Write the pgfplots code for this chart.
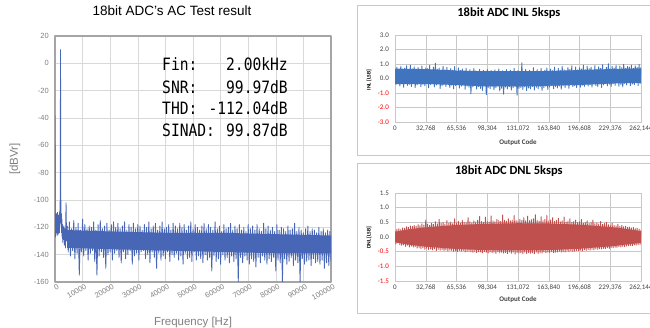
\documentclass[border=0pt]{standalone}
\usepackage{pgfplots}
\usepackage{pgfplotstable}
\pgfplotsset{compat=1.18}
\usepackage{fontspec}
\setmainfont{Liberation Sans}
\newfontfamily\carlito{Carlito}
\newfontfamily\mono[FakeStretch=0.86]{DejaVu Sans Mono}
\definecolor{fftblue}{RGB}{72,102,182}
\definecolor{inlblue}{RGB}{64,116,190}
\definecolor{dnlred}{RGB}{192,80,77}
\definecolor{gridgray}{RGB}{217,217,217}
\definecolor{axgray}{RGB}{165,165,165}
\definecolor{labelgray}{RGB}{128,128,128}
\definecolor{framegray}{RGB}{200,200,200}
\definecolor{rgrid}{RGB}{200,200,200}
\definecolor{rlabel}{RGB}{64,64,64}

\pgfplotstableread[header=false,row sep=\\]{
-119\\ -138\\ -116\\ -141\\ -121\\ -137\\ -115\\ -143\\ -120\\ -139\\
-117\\ -155\\ -122\\ -138\\ -114\\ -141\\ -118\\ -137\\ -121\\ -144\\
-119\\ -139\\ -120\\ -137\\ -116\\ -145\\ -122\\ -155\\ -118\\ -141\\
-115\\ -138\\ -121\\ -142\\ -119\\ -150\\ -117\\ -140\\ -122\\ -138\\
-118\\ -144\\ -116\\ -139\\ -120\\ -137\\ -117\\ -142\\ -121\\ -146\\
-119\\ -138\\ -116\\ -143\\ -122\\ -140\\ -118\\ -137\\ -120\\ -147\\
-117\\ -141\\ -121\\ -139\\ -118\\ -144\\ -119\\ -138\\ -122\\ -137\\
-118\\ -143\\ -120\\ -140\\ -116\\ -146\\ -121\\ -138\\ -119\\ -142\\
-117\\ -150\\ -122\\ -139\\ -119\\ -144\\ -116\\ -141\\ -121\\ -143\\
-120\\ -138\\ -118\\ -145\\ -122\\ -140\\ -117\\ -142\\ -119\\ -139\\
-121\\ -144\\ -117\\ -141\\ -120\\ -147\\ -118\\ -139\\ -122\\ -143\\
-119\\ -142\\ -116\\ -145\\ -121\\ -138\\ -118\\ -144\\ -120\\ -141\\
-122\\ -143\\ -119\\ -146\\ -117\\ -140\\ -121\\ -144\\ -118\\ -142\\
-120\\ -152\\ -122\\ -141\\ -116\\ -145\\ -121\\ -143\\ -119\\ -147\\
-123\\ -140\\ -118\\ -144\\ -121\\ -142\\ -120\\ -146\\ -117\\ -141\\
-122\\ -145\\ -119\\ -143\\ -121\\ -160\\ -118\\ -142\\ -122\\ -146\\
-120\\ -141\\ -123\\ -144\\ -118\\ -147\\ -121\\ -143\\ -119\\ -145\\
-122\\ -149\\ -118\\ -142\\ -121\\ -146\\ -123\\ -141\\ -117\\ -144\\
-121\\ -147\\ -119\\ -143\\ -122\\ -145\\ -120\\ -142\\ -123\\ -152\\
-118\\ -144\\ -122\\ -146\\ -120\\ -160\\ -121\\ -143\\ -123\\ -147\\
-119\\ -145\\ -122\\ -142\\ -121\\ -148\\ -117\\ -144\\ -123\\ -146\\
-120\\ -160\\ -122\\ -143\\ -124\\ -147\\ -121\\ -145\\ -119\\ -144\\
-123\\ -148\\ -121\\ -143\\ -122\\ -146\\ -124\\ -145\\ -120\\ -147\\
-123\\ -144\\ -121\\ -150\\ -124\\ -146\\ -122\\ -148\\ -123\\ -145\\
}\ffttable

\pgfplotstableread[header=false,row sep=\\]{
0.62\\ -0.41\\ 0.78\\ -0.28\\ 0.55\\ -0.52\\ 0.83\\ -0.35\\ 0.49\\ -0.60\\
0.71\\ -0.30\\ 0.88\\ -0.47\\ 0.58\\ -0.39\\ 0.92\\ -0.55\\ 0.66\\ -0.33\\
0.80\\ -0.62\\ 0.52\\ -0.44\\ 0.75\\ -0.29\\ 0.61\\ -0.57\\ 0.86\\ -0.40\\
0.57\\ -0.50\\ 0.74\\ -0.36\\ 0.68\\ -0.64\\ 0.90\\ -0.42\\ 0.54\\ -0.31\\
0.79\\ -0.58\\ 1.05\\ -0.45\\ 0.63\\ -0.37\\ 0.72\\ -0.69\\ 0.56\\ -0.48\\
0.84\\ -0.40\\ 0.60\\ -0.55\\ 0.77\\ -0.33\\ 0.51\\ -0.62\\ 0.69\\ -0.46\\
0.58\\ -0.71\\ 0.82\\ -0.50\\ 0.47\\ -0.38\\ 0.73\\ -0.66\\ 0.55\\ -0.53\\
0.66\\ -0.44\\ 0.49\\ -0.75\\ 0.70\\ -0.52\\ 0.43\\ -0.60\\ 0.62\\ -1.05\\
0.45\\ -0.58\\ 0.68\\ -0.47\\ 0.52\\ -0.73\\ 0.39\\ -0.55\\ 0.64\\ -0.68\\
0.48\\ -0.82\\ 0.57\\ -0.49\\ 0.41\\ -1.12\\ 0.63\\ -0.61\\ 0.46\\ -0.70\\
0.55\\ -0.54\\ 0.37\\ -0.78\\ 0.60\\ -0.63\\ 0.44\\ -0.51\\ 0.66\\ -0.85\\
0.42\\ -0.67\\ 0.53\\ -1.08\\ 0.36\\ -0.59\\ 0.61\\ -0.72\\ 0.47\\ -0.56\\
0.58\\ -0.80\\ 0.40\\ -0.64\\ 0.70\\ -0.53\\ 0.45\\ -1.15\\ 0.56\\ -0.69\\
0.38\\ -0.62\\ 1.08\\ -0.75\\ 0.50\\ -0.58\\ 0.63\\ -0.83\\ 0.44\\ -0.66\\
0.57\\ -0.72\\ 0.41\\ -0.55\\ 0.75\\ -0.79\\ 0.48\\ -0.61\\ 0.62\\ -0.70\\
0.46\\ -0.57\\ 0.69\\ -0.82\\ 0.43\\ -0.64\\ 0.58\\ -0.53\\ 0.72\\ -0.76\\
0.50\\ -0.60\\ 0.65\\ -0.48\\ 0.54\\ -0.71\\ 0.79\\ -0.56\\ 0.47\\ -0.65\\
0.70\\ -0.52\\ 0.56\\ -0.74\\ 0.83\\ -0.49\\ 0.60\\ -0.62\\ 0.52\\ -0.45\\
0.76\\ -0.68\\ 0.63\\ -0.42\\ 0.87\\ -0.57\\ 0.55\\ -0.50\\ 0.80\\ -0.63\\
0.59\\ -0.39\\ 0.74\\ -0.60\\ 0.66\\ -0.46\\ 0.92\\ -0.55\\ 0.61\\ -0.36\\
0.85\\ -0.52\\ 0.68\\ -0.41\\ 0.78\\ -0.59\\ 0.57\\ -0.33\\ 0.89\\ -0.48\\
0.64\\ -0.56\\ 0.81\\ -0.37\\ 0.70\\ -0.62\\ 0.95\\ -0.44\\ 0.60\\ -0.30\\
0.77\\ -0.51\\ 1.02\\ -0.40\\ 0.66\\ -0.55\\ 0.84\\ -0.35\\ 0.72\\ -0.47\\
0.90\\ -0.29\\ 0.63\\ -0.53\\ 0.86\\ -0.42\\ 0.75\\ -0.58\\ 0.98\\ -0.34\\
0.69\\ -0.45\\ 0.83\\ -0.27\\ 0.79\\ -0.50\\ 0.92\\ -0.38\\ 0.71\\ -0.43\\
0.88\\ -0.31\\ 0.76\\ -0.49\\ 0.97\\ -0.36\\ 0.80\\
}\inltable

\pgfplotstableread[header=false,row sep=\\]{
0.22\\ -0.24\\ 0.26\\ -0.20\\ 0.28\\ -0.26\\ 0.25\\ -0.29\\ 0.31\\ -0.27\\
0.30\\ -0.32\\ 0.35\\ -0.28\\ 0.33\\ -0.34\\ 0.38\\ -0.31\\ 0.36\\ -0.35\\
0.40\\ -0.33\\ 0.37\\ -0.38\\ 0.42\\ -0.36\\ 0.39\\ -0.40\\ 0.45\\ -0.37\\
0.41\\ -0.42\\ 0.58\\ -0.39\\ 0.44\\ -0.43\\ 0.40\\ -0.41\\ 0.47\\ -0.44\\
0.43\\ -0.40\\ 0.52\\ -0.46\\ 0.45\\ -0.42\\ 0.60\\ -0.45\\ 0.46\\ -0.43\\
0.49\\ -0.47\\ 0.44\\ -0.44\\ 0.56\\ -0.48\\ 0.47\\ -0.45\\ 0.51\\ -0.46\\
0.45\\ -0.49\\ 0.62\\ -0.47\\ 0.48\\ -0.50\\ 0.53\\ -0.46\\ 0.47\\ -0.48\\
0.58\\ -0.47\\ 0.50\\ -0.51\\ 0.49\\ -0.49\\ 0.66\\ -0.48\\ 0.52\\ -0.50\\
0.48\\ -0.52\\ 0.55\\ -0.49\\ 0.51\\ -0.53\\ 0.57\\ -0.50\\ 0.70\\ -0.51\\
0.53\\ -0.54\\ 0.50\\ -0.50\\ 0.68\\ -0.52\\ 0.54\\ -0.55\\ 0.51\\ -0.51\\
0.72\\ -0.53\\ 0.55\\ -0.52\\ 0.52\\ -0.56\\ 0.60\\ -0.50\\ 0.56\\ -0.54\\
0.53\\ -0.52\\ 0.75\\ -0.55\\ 0.57\\ -0.53\\ 0.54\\ -0.57\\ 0.62\\ -0.51\\
0.55\\ -0.56\\ 0.58\\ -0.52\\ 0.73\\ -0.58\\ 0.56\\ -0.53\\ 0.54\\ -0.55\\
0.60\\ -0.54\\ 0.57\\ -0.57\\ 0.66\\ -0.52\\ 0.55\\ -0.56\\ 0.71\\ -0.53\\
0.56\\ -0.55\\ 0.59\\ -0.54\\ 0.62\\ -0.57\\ 0.76\\ -0.52\\ 0.57\\ -0.56\\
0.54\\ -0.53\\ 0.69\\ -0.55\\ 0.56\\ -0.51\\ 0.60\\ -0.54\\ 0.73\\ -0.52\\
0.55\\ -0.53\\ 0.58\\ -0.50\\ 0.66\\ -0.54\\ 0.53\\ -0.52\\ 0.57\\ -0.51\\
0.64\\ -0.49\\ 0.52\\ -0.52\\ 0.55\\ -0.50\\ 0.68\\ -0.51\\ 0.51\\ -0.48\\
0.54\\ -0.50\\ 0.62\\ -0.47\\ 0.50\\ -0.49\\ 0.53\\ -0.48\\ 0.58\\ -0.46\\
0.49\\ -0.47\\ 0.52\\ -0.45\\ 0.60\\ -0.48\\ 0.47\\ -0.44\\ 0.50\\ -0.46\\
0.55\\ -0.43\\ 0.46\\ -0.45\\ 0.49\\ -0.42\\ 0.58\\ -0.44\\ 0.45\\ -0.41\\
0.48\\ -0.42\\ 0.44\\ -0.40\\ 0.53\\ -0.41\\ 0.43\\ -0.39\\ 0.46\\ -0.40\\
0.50\\ -0.37\\ 0.42\\ -0.39\\ 0.40\\ -0.36\\ 0.47\\ -0.37\\ 0.39\\ -0.35\\
0.38\\ -0.36\\ 0.44\\ -0.33\\ 0.36\\ -0.34\\ 0.40\\ -0.32\\ 0.35\\ -0.33\\
0.37\\ -0.31\\ 0.33\\ -0.30\\ 0.34\\ -0.29\\ 0.31\\ -0.30\\ 0.33\\ -0.27\\
0.29\\ -0.28\\ 0.30\\ -0.26\\ 0.27\\ -0.25\\ 0.24\\
}\dnltable

\pgfplotsset{
  rstyle/.style={
    anchor=south west, scale only axis, width=246bp,
    xmin=0, xmax=262144, enlargelimits=false,
    scaled x ticks=false, scaled y ticks=false,
    xtick={0,32768,65536,98304,131072,163840,196608,229376,262144},
    xticklabels={0,{32,768},{65,536},{98,304},{131,072},{163,840},{196,608},{229,376},{262,144}},
    grid=major, major grid style={rgrid, line width=0.5bp},
    axis line style={rgrid, line width=0.5bp},
    major tick length=0pt,
    tick label style={font=\carlito\fontsize{7bp}{8bp}\selectfont, text=rlabel},
    xticklabel style={inner sep=1bp, yshift=-3bp},
    yticklabel style={inner sep=1bp, xshift=-5bp},
    title style={font=\carlito\bfseries\fontsize{12.5bp}{14bp}\selectfont, anchor=center},
    xlabel style={font=\carlito\bfseries\fontsize{7bp}{8bp}\selectfont, text=rlabel, anchor=center},
    ylabel style={font=\carlito\bfseries\fontsize{5.5bp}{6bp}\selectfont, text=black, anchor=center},
    clip=true,
  }
}

\begin{document}
\begin{tikzpicture}[line join=round, line cap=round]
\useasboundingbox (0,0) rectangle (650bp,328bp);
\draw[framegray, line width=0.9bp] (357bp,173bp) rectangle (720bp,323bp);
\draw[framegray, line width=0.9bp] (357bp,15bp) rectangle (720bp,165bp);

% ---------- Left: FFT ----------
\begin{axis}[
  at={(55bp,46bp)}, anchor=south west, scale only axis,
  width=276bp, height=246bp,
  xmin=0, xmax=100000, ymin=-160, ymax=20, enlargelimits=false,
  scaled x ticks=false, scaled y ticks=false,
  xtick={0,10000,20000,30000,40000,50000,60000,70000,80000,90000,100000},
  xticklabels={0,10000,20000,30000,40000,50000,60000,70000,80000,90000,100000},
  ytick={-160,-140,-120,-100,-80,-60,-40,-20,0,20},
  yticklabels={-160,-140,-120,-100,-80,-60,-40,-20,0,20},
  grid=major, major grid style={gridgray, line width=0.6bp},
  axis line style={axgray, line width=1.1bp},
  major tick length=0pt,
  tick label style={font=\fontsize{7.5bp}{9bp}\selectfont, text=labelgray},
  xticklabel style={rotate=30, anchor=north east, inner sep=1bp, xshift=2bp, yshift=-1bp},
  yticklabel style={inner sep=0pt, xshift=-6bp},
  title={18bit ADC’s AC Test result},
  title style={at={(axis description cs:0.424,1.077)}, anchor=center, font=\fontsize{13.5bp}{15bp}\selectfont},
  xlabel={Frequency [Hz]},
  xlabel style={at={(axis description cs:0.5,-0.163)}, anchor=center, font=\fontsize{11.5bp}{13bp}\selectfont, text=labelgray},
  ylabel={[dBVr]},
  ylabel style={at={(axis description cs:-0.145,0.5)}, anchor=center, rotate=0, font=\fontsize{11.5bp}{13bp}\selectfont, text=labelgray},
  clip=true,
]
\addplot[draw=none, fill=fftblue] coordinates {
(4400,-122) (20000,-123) (40000,-124) (60000,-124) (80000,-125) (100000,-126)
(100000,-139) (80000,-139) (60000,-138) (40000,-137) (20000,-136) (4400,-135)
} --cycle;
\addplot[fftblue, line width=0.85bp] coordinates {
(0,-38) (100,-118) (200,-127) (300,-112) (400,-124) (500,-110) (600,-121) (700,-113)
(800,-126) (900,-109) (1000,-120) (1100,-112) (1200,-125) (1300,-111) (1400,-122)
(1500,-115) (1600,-124) (1700,-108) (1800,-119) (1900,-95) (2000,10) (2100,-98)
(2200,-117) (2300,-110) (2400,-124) (2500,-114) (2600,-127) (2700,-118) (2800,-131)
(2900,-120) (3000,-129) (3200,-119) (3400,-133) (3600,-121) (3800,-135) (4000,-102)
(4200,-130) (4400,-119)
};
\addplot[fftblue, line width=0.85bp] table[x expr=\coordindex*400+4400, y index=0] {\ffttable};
\end{axis}

\node[anchor=base west, inner sep=0] at (162bp,257.3bp) {\mono\fontsize{17bp}{20bp}\selectfont Fin:};
\node[anchor=base east, inner sep=0] at (288bp,257.3bp) {\mono\fontsize{17bp}{20bp}\selectfont 2.00kHz};
\node[anchor=base west, inner sep=0] at (162bp,234.7bp) {\mono\fontsize{17bp}{20bp}\selectfont SNR:};
\node[anchor=base east, inner sep=0] at (288bp,234.7bp) {\mono\fontsize{17bp}{20bp}\selectfont 99.97dB};
\node[anchor=base west, inner sep=0] at (162bp,213.7bp) {\mono\fontsize{17bp}{20bp}\selectfont THD:};
\node[anchor=base east, inner sep=0] at (288bp,213.7bp) {\mono\fontsize{17bp}{20bp}\selectfont -112.04dB};
\node[anchor=base west, inner sep=0] at (162bp,191.3bp) {\mono\fontsize{17bp}{20bp}\selectfont SINAD:};
\node[anchor=base east, inner sep=0] at (288bp,191.3bp) {\mono\fontsize{17bp}{20bp}\selectfont 99.87dB};

% ---------- Right top: INL ----------
\begin{axis}[rstyle,
  at={(395bp,206bp)}, height=87bp,
  ymin=-3, ymax=3,
  ytick={-3,-2,-1,0,1,2,3},
  yticklabels={\textcolor{red}{-3.0},\textcolor{red}{-2.0},\textcolor{red}{-1.0},0.0,1.0,2.0,3.0},
  title={18bit ADC INL 5ksps},
  title style={at={(axis description cs:0.463,1.184)}},
  xlabel={Output Code},
  xlabel style={at={(axis description cs:0.5,-0.238)}},
  ylabel={INL [LSB]},
  ylabel style={at={(axis description cs:-0.106,0.48)}},
]
\addplot[draw=none, fill=inlblue] coordinates {
(0,0.68) (32768,0.65) (65536,0.55) (98304,0.5) (131072,0.5) (163840,0.52) (196608,0.58) (229376,0.65) (262144,0.7)
(262144,-0.3) (229376,-0.35) (196608,-0.45) (163840,-0.5) (131072,-0.55) (98304,-0.55) (65536,-0.45) (32768,-0.38) (0,-0.38)
} --cycle;
\addplot[inlblue, line width=0.9bp] table[x expr=\coordindex*1024, y index=0] {\inltable};
\end{axis}

% ---------- Right bottom: DNL ----------
\begin{axis}[rstyle,
  at={(395bp,47bp)}, height=88bp,
  ymin=-1.5, ymax=1.5,
  ytick={-1.5,-1,-0.5,0,0.5,1,1.5},
  yticklabels={\textcolor{red}{-1.5},\textcolor{red}{-1.0},\textcolor{red}{-0.5},0.0,0.5,1.0,1.5},
  title={18bit ADC DNL 5ksps},
  title style={at={(axis description cs:0.463,1.18)}},
  xlabel={Output Code},
  xlabel style={at={(axis description cs:0.5,-0.216)}},
  ylabel={DNL [LSB]},
  ylabel style={at={(axis description cs:-0.106,0.49)}},
]
\addplot[draw=none, fill=dnlred] coordinates {
(0,0.18) (16384,0.27) (32768,0.33) (65536,0.41) (98304,0.45) (131072,0.47) (163840,0.46) (196608,0.42) (229376,0.34) (245760,0.28) (262144,0.2)
(262144,-0.2) (245760,-0.26) (229376,-0.32) (196608,-0.40) (163840,-0.45) (131072,-0.46) (98304,-0.45) (65536,-0.41) (32768,-0.33) (16384,-0.27) (0,-0.18)
} --cycle;
\addplot[dnlred, line width=0.9bp] table[x expr=\coordindex*1024, y index=0] {\dnltable};
\end{axis}
\end{tikzpicture}
\end{document}
